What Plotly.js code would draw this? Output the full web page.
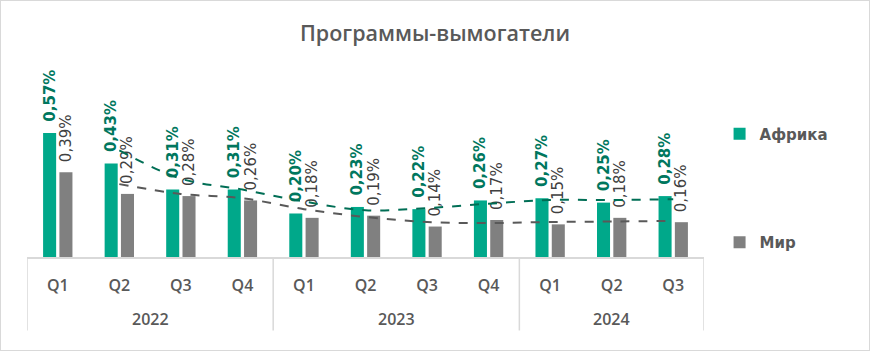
<!DOCTYPE html>
<html><head><meta charset="utf-8">
<script src="https://cdn.plot.ly/plotly-3.0.1.min.js"></script>
<style>
html,body{margin:0;padding:0;background:#fff}
#frame{width:870px;height:351px;box-sizing:border-box;border:1px solid #d9d9d9}
#chart{width:868px;height:349px}
</style>
</head><body><div id="frame"><div id="chart"></div></div>
<script>
const years=['2022','2022','2022','2022','2023','2023','2023','2023','2024','2024','2024'];
const quarters=['Q1','Q2','Q3','Q4','Q1','Q2','Q3','Q4','Q1','Q2','Q3'];
const africa=[0.57,0.43,0.31,0.31,0.20,0.23,0.22,0.26,0.27,0.25,0.28];
const world=[0.39,0.29,0.28,0.26,0.18,0.19,0.14,0.17,0.15,0.18,0.16];
const africaTrend=[null,0.49,0.36,0.31,0.255,0.215,0.225,0.245,0.262,0.262,0.266];
const worldTrend=[null,0.335,0.29,0.27,0.22,0.184,0.161,0.156,0.161,0.163,0.166];

const cats=years.map((y,i)=>y+' '+quarters[i]);
const labelFont={family:'Open Sans',size:16,color:'#595959',weight:600};
const pad='<span style="color:rgba(0,0,0,0);font-size:11px">,,</span>';

const traces=[
 {type:'bar',name:'Африка',x:cats,y:africa,marker:{color:'#00A88A'},
  texttemplate:pad+'%{y:.2f}%',textposition:'outside',textangle:-90,cliponaxis:false,constraintext:'none',
  textfont:{family:'DejaVu Sans',size:15,color:'#00775E',weight:'bold'},legendgroup:'a',hoverinfo:'skip'},
 {type:'bar',name:'Мир',x:cats,y:world,marker:{color:'#808080'},
  texttemplate:pad+'%{y:.2f}%',textposition:'outside',textangle:-90,cliponaxis:false,constraintext:'none',
  textfont:{family:'DejaVu Sans',size:15,color:'#404040'},legendgroup:'b',hoverinfo:'skip'},
 {type:'scatter',mode:'lines',x:cats,y:africaTrend,showlegend:false,connectgaps:false,
  line:{color:'#006E55',width:2,dash:'dash',shape:'spline',smoothing:1},hoverinfo:'skip'},
 {type:'scatter',mode:'lines',x:cats,y:worldTrend,showlegend:false,connectgaps:false,
  line:{color:'#595959',width:2,dash:'dash',shape:'spline',smoothing:1},hoverinfo:'skip'}
];

const groups=[];
years.forEach((y,i)=>{
  let g=groups.find(o=>o.year===y);
  if(!g){g={year:y,first:i,last:i};groups.push(g);} else g.last=i;
});
const annotations=groups.map(g=>({x:(g.first+g.last)/2,xref:'x',y:-0.335,yref:'paper',
  text:g.year,showarrow:false,xanchor:'center',yanchor:'middle',font:labelFont}));
const shapes=[];
groups.forEach((g,k)=>{
  if(k===0) shapes.push({type:'line',xref:'x',yref:'paper',x0:g.first-0.5,x1:g.first-0.5,y0:0,y1:-0.395,line:{color:'#d9d9d9',width:1.5}});
  shapes.push({type:'line',xref:'x',yref:'paper',x0:g.last+0.5,x1:g.last+0.5,y0:0,y1:-0.395,line:{color:'#d9d9d9',width:1.5}});
});

const layout={
 width:868,height:349,
 margin:{l:26,r:165,t:70,b:93},
 paper_bgcolor:'#fff',plot_bgcolor:'#fff',
 separators:', ',
 title:{text:'Программы-вымогатели',x:0.5,xanchor:'center',xref:'container',y:0.908,yanchor:'middle',
  font:{family:'Open Sans',size:21.5,color:'#595959',weight:600}},
 barmode:'group',bargap:0.47,bargroupgap:0.2,
 xaxis:{type:'category',showline:true,linecolor:'#d9d9d9',linewidth:1.5,ticks:'',
  tickmode:'array',tickvals:cats,ticktext:quarters,ticklabelstandoff:13,
  showgrid:false,zeroline:false,range:[-0.5,cats.length-0.5],tickfont:labelFont},
 yaxis:{range:[0,0.855],visible:false,showgrid:false,zeroline:false},
 annotations:annotations,shapes:shapes,
 showlegend:true,
 legend:{x:1.023,xanchor:'left',y:0.75,yanchor:'top',traceorder:'grouped',tracegroupgap:86,
  font:{family:'DejaVu Sans',size:15,color:'#595959',weight:'bold'},bgcolor:'rgba(0,0,0,0)'}
};
Plotly.newPlot('chart',traces,layout,{displayModeBar:false,staticPlot:true});
</script>
</body></html>
